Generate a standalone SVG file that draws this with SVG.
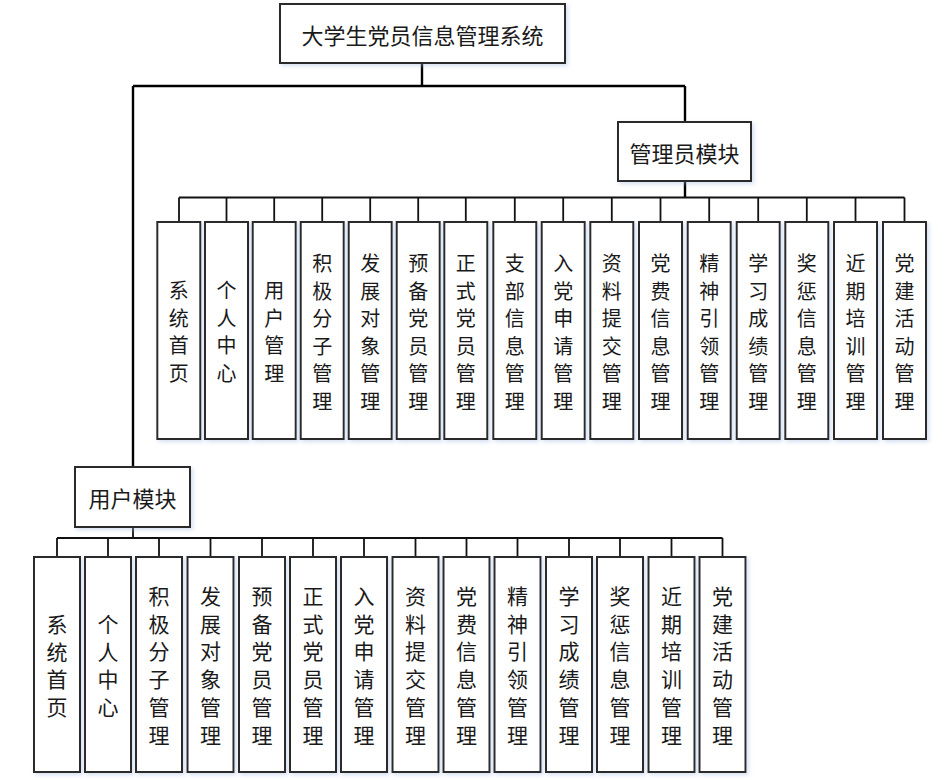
<svg xmlns="http://www.w3.org/2000/svg" width="948" height="780" viewBox="0 0 948 780">
<defs>
<filter id="sh" x="-20%" y="-10%" width="150%" height="130%">
<feDropShadow dx="2" dy="2" stdDeviation="2" flood-color="#9fb8e0" flood-opacity="0.45"/>
</filter>
<style>
.box{fill:#fff;stroke:#2b2b2b;stroke-width:2;filter:url(#sh)}
.t{font-family:"Noto Sans CJK SC","Noto Sans CJK JP",sans-serif;fill:#1a1a1a;text-anchor:middle;dominant-baseline:central}
.h{font-size:22px}
.a{font-size:20px}
.u{font-size:21px}
.c{fill:none;stroke:#000;stroke-width:2.4}
.cl{fill:none;stroke:#111;stroke-width:1.8}
</style>
</defs>
<g id="connectors">
<path class="c" d="M422 63V86M133 86H685M133 86V467M685 86V122M685 181V197.5"/>
<path class="cl" d="M179 197.5H904.5M179 197.5V222M226.5 197.5V222M274.2 197.5V222M322.2 197.5V222M370.2 197.5V222M418.2 197.5V222M465.8 197.5V222M514.8 197.5V222M563.2 197.5V222M611.8 197.5V222M660.5 197.5V222M709.2 197.5V222M758.2 197.5V222M806.8 197.5V222M855.5 197.5V222M904.5 197.5V222"/>
<path class="cl" d="M133 527V538M57 538H722.5M57 538V557M108 538V557M159 538V557M210.5 538V557M262 538V557M313 538V557M364 538V557M415.5 538V557M466.5 538V557M517.5 538V557M569 538V557M620 538V557M671.5 538V557M722.5 538V557"/>
</g>
<g id="root"><rect class="box" x="280" y="4" width="285" height="59"/><text class="t h" x="422.5" y="34">大学生党员信息管理系统</text></g>
<g id="admin"><rect class="box" x="618" y="122" width="133" height="59"/><text class="t h" x="684.5" y="152">管理员模块</text></g>
<g id="user"><rect class="box" x="75" y="467" width="115" height="60"/><text class="t h" x="132.5" y="497">用户模块</text></g>

<g id="a1"><rect class="box" x="157.3" y="222" width="43" height="217"/><text class="t a" x="178.8" y="289"><tspan x="178.8" y="289">系</tspan><tspan x="178.8" dy="27.5">统</tspan><tspan x="178.8" dy="27.5">首</tspan><tspan x="178.8" dy="27.5">页</tspan></text></g>
<g id="a2"><rect class="box" x="205" y="222" width="43" height="217"/><text class="t a"><tspan x="226.5" y="289">个</tspan><tspan x="226.5" dy="27.5">人</tspan><tspan x="226.5" dy="27.5">中</tspan><tspan x="226.5" dy="27.5">心</tspan></text></g>
<g id="a3"><rect class="box" x="252.7" y="222" width="43" height="217"/><text class="t a"><tspan x="274.2" y="289">用</tspan><tspan x="274.2" dy="27.5">户</tspan><tspan x="274.2" dy="27.5">管</tspan><tspan x="274.2" dy="27.5">理</tspan></text></g>
<g id="a4"><rect class="box" x="300.7" y="222" width="43" height="217"/><text class="t a"><tspan x="322.2" y="262">积</tspan><tspan x="322.2" dy="27.5">极</tspan><tspan x="322.2" dy="27.5">分</tspan><tspan x="322.2" dy="27.5">子</tspan><tspan x="322.2" dy="27.5">管</tspan><tspan x="322.2" dy="27.5">理</tspan></text></g>
<g id="a5"><rect class="box" x="348.7" y="222" width="43" height="217"/><text class="t a"><tspan x="370.2" y="262">发</tspan><tspan x="370.2" dy="27.5">展</tspan><tspan x="370.2" dy="27.5">对</tspan><tspan x="370.2" dy="27.5">象</tspan><tspan x="370.2" dy="27.5">管</tspan><tspan x="370.2" dy="27.5">理</tspan></text></g>
<g id="a6"><rect class="box" x="396.7" y="222" width="43" height="217"/><text class="t a"><tspan x="418.2" y="262">预</tspan><tspan x="418.2" dy="27.5">备</tspan><tspan x="418.2" dy="27.5">党</tspan><tspan x="418.2" dy="27.5">员</tspan><tspan x="418.2" dy="27.5">管</tspan><tspan x="418.2" dy="27.5">理</tspan></text></g>
<g id="a7"><rect class="box" x="444.3" y="222" width="43" height="217"/><text class="t a"><tspan x="465.8" y="262">正</tspan><tspan x="465.8" dy="27.5">式</tspan><tspan x="465.8" dy="27.5">党</tspan><tspan x="465.8" dy="27.5">员</tspan><tspan x="465.8" dy="27.5">管</tspan><tspan x="465.8" dy="27.5">理</tspan></text></g>
<g id="a8"><rect class="box" x="493.3" y="222" width="43" height="217"/><text class="t a"><tspan x="514.8" y="262">支</tspan><tspan x="514.8" dy="27.5">部</tspan><tspan x="514.8" dy="27.5">信</tspan><tspan x="514.8" dy="27.5">息</tspan><tspan x="514.8" dy="27.5">管</tspan><tspan x="514.8" dy="27.5">理</tspan></text></g>
<g id="a9"><rect class="box" x="541.7" y="222" width="43" height="217"/><text class="t a"><tspan x="563.2" y="262">入</tspan><tspan x="563.2" dy="27.5">党</tspan><tspan x="563.2" dy="27.5">申</tspan><tspan x="563.2" dy="27.5">请</tspan><tspan x="563.2" dy="27.5">管</tspan><tspan x="563.2" dy="27.5">理</tspan></text></g>
<g id="a10"><rect class="box" x="590.3" y="222" width="43" height="217"/><text class="t a"><tspan x="611.8" y="262">资</tspan><tspan x="611.8" dy="27.5">料</tspan><tspan x="611.8" dy="27.5">提</tspan><tspan x="611.8" dy="27.5">交</tspan><tspan x="611.8" dy="27.5">管</tspan><tspan x="611.8" dy="27.5">理</tspan></text></g>
<g id="a11"><rect class="box" x="639" y="222" width="43" height="217"/><text class="t a"><tspan x="660.5" y="262">党</tspan><tspan x="660.5" dy="27.5">费</tspan><tspan x="660.5" dy="27.5">信</tspan><tspan x="660.5" dy="27.5">息</tspan><tspan x="660.5" dy="27.5">管</tspan><tspan x="660.5" dy="27.5">理</tspan></text></g>
<g id="a12"><rect class="box" x="687.7" y="222" width="43" height="217"/><text class="t a"><tspan x="709.2" y="262">精</tspan><tspan x="709.2" dy="27.5">神</tspan><tspan x="709.2" dy="27.5">引</tspan><tspan x="709.2" dy="27.5">领</tspan><tspan x="709.2" dy="27.5">管</tspan><tspan x="709.2" dy="27.5">理</tspan></text></g>
<g id="a13"><rect class="box" x="736.7" y="222" width="43" height="217"/><text class="t a"><tspan x="758.2" y="262">学</tspan><tspan x="758.2" dy="27.5">习</tspan><tspan x="758.2" dy="27.5">成</tspan><tspan x="758.2" dy="27.5">绩</tspan><tspan x="758.2" dy="27.5">管</tspan><tspan x="758.2" dy="27.5">理</tspan></text></g>
<g id="a14"><rect class="box" x="785.3" y="222" width="43" height="217"/><text class="t a"><tspan x="806.8" y="262">奖</tspan><tspan x="806.8" dy="27.5">惩</tspan><tspan x="806.8" dy="27.5">信</tspan><tspan x="806.8" dy="27.5">息</tspan><tspan x="806.8" dy="27.5">管</tspan><tspan x="806.8" dy="27.5">理</tspan></text></g>
<g id="a15"><rect class="box" x="834" y="222" width="43" height="217"/><text class="t a"><tspan x="855.5" y="262">近</tspan><tspan x="855.5" dy="27.5">期</tspan><tspan x="855.5" dy="27.5">培</tspan><tspan x="855.5" dy="27.5">训</tspan><tspan x="855.5" dy="27.5">管</tspan><tspan x="855.5" dy="27.5">理</tspan></text></g>
<g id="a16"><rect class="box" x="883" y="222" width="43" height="217"/><text class="t a"><tspan x="904.5" y="262">党</tspan><tspan x="904.5" dy="27.5">建</tspan><tspan x="904.5" dy="27.5">活</tspan><tspan x="904.5" dy="27.5">动</tspan><tspan x="904.5" dy="27.5">管</tspan><tspan x="904.5" dy="27.5">理</tspan></text></g>

<g id="u1"><rect class="box" x="34" y="557" width="46" height="215"/><text class="t u"><tspan x="57" y="623">系</tspan><tspan x="57" dy="27.7">统</tspan><tspan x="57" dy="27.7">首</tspan><tspan x="57" dy="27.7">页</tspan></text></g>
<g id="u2"><rect class="box" x="85" y="557" width="46" height="215"/><text class="t u"><tspan x="108" y="623">个</tspan><tspan x="108" dy="27.7">人</tspan><tspan x="108" dy="27.7">中</tspan><tspan x="108" dy="27.7">心</tspan></text></g>
<g id="u3"><rect class="box" x="136" y="557" width="46" height="215"/><text class="t u"><tspan x="159" y="595">积</tspan><tspan x="159" dy="27.7">极</tspan><tspan x="159" dy="27.7">分</tspan><tspan x="159" dy="27.7">子</tspan><tspan x="159" dy="27.7">管</tspan><tspan x="159" dy="27.7">理</tspan></text></g>
<g id="u4"><rect class="box" x="187.5" y="557" width="46" height="215"/><text class="t u"><tspan x="210.5" y="595">发</tspan><tspan x="210.5" dy="27.7">展</tspan><tspan x="210.5" dy="27.7">对</tspan><tspan x="210.5" dy="27.7">象</tspan><tspan x="210.5" dy="27.7">管</tspan><tspan x="210.5" dy="27.7">理</tspan></text></g>
<g id="u5"><rect class="box" x="239" y="557" width="46" height="215"/><text class="t u"><tspan x="262" y="595">预</tspan><tspan x="262" dy="27.7">备</tspan><tspan x="262" dy="27.7">党</tspan><tspan x="262" dy="27.7">员</tspan><tspan x="262" dy="27.7">管</tspan><tspan x="262" dy="27.7">理</tspan></text></g>
<g id="u6"><rect class="box" x="290" y="557" width="46" height="215"/><text class="t u"><tspan x="313" y="595">正</tspan><tspan x="313" dy="27.7">式</tspan><tspan x="313" dy="27.7">党</tspan><tspan x="313" dy="27.7">员</tspan><tspan x="313" dy="27.7">管</tspan><tspan x="313" dy="27.7">理</tspan></text></g>
<g id="u7"><rect class="box" x="341" y="557" width="46" height="215"/><text class="t u"><tspan x="364" y="595">入</tspan><tspan x="364" dy="27.7">党</tspan><tspan x="364" dy="27.7">申</tspan><tspan x="364" dy="27.7">请</tspan><tspan x="364" dy="27.7">管</tspan><tspan x="364" dy="27.7">理</tspan></text></g>
<g id="u8"><rect class="box" x="392.5" y="557" width="46" height="215"/><text class="t u"><tspan x="415.5" y="595">资</tspan><tspan x="415.5" dy="27.7">料</tspan><tspan x="415.5" dy="27.7">提</tspan><tspan x="415.5" dy="27.7">交</tspan><tspan x="415.5" dy="27.7">管</tspan><tspan x="415.5" dy="27.7">理</tspan></text></g>
<g id="u9"><rect class="box" x="443.5" y="557" width="46" height="215"/><text class="t u"><tspan x="466.5" y="595">党</tspan><tspan x="466.5" dy="27.7">费</tspan><tspan x="466.5" dy="27.7">信</tspan><tspan x="466.5" dy="27.7">息</tspan><tspan x="466.5" dy="27.7">管</tspan><tspan x="466.5" dy="27.7">理</tspan></text></g>
<g id="u10"><rect class="box" x="494.5" y="557" width="46" height="215"/><text class="t u"><tspan x="517.5" y="595">精</tspan><tspan x="517.5" dy="27.7">神</tspan><tspan x="517.5" dy="27.7">引</tspan><tspan x="517.5" dy="27.7">领</tspan><tspan x="517.5" dy="27.7">管</tspan><tspan x="517.5" dy="27.7">理</tspan></text></g>
<g id="u11"><rect class="box" x="546" y="557" width="46" height="215"/><text class="t u"><tspan x="569" y="595">学</tspan><tspan x="569" dy="27.7">习</tspan><tspan x="569" dy="27.7">成</tspan><tspan x="569" dy="27.7">绩</tspan><tspan x="569" dy="27.7">管</tspan><tspan x="569" dy="27.7">理</tspan></text></g>
<g id="u12"><rect class="box" x="597" y="557" width="46" height="215"/><text class="t u"><tspan x="620" y="595">奖</tspan><tspan x="620" dy="27.7">惩</tspan><tspan x="620" dy="27.7">信</tspan><tspan x="620" dy="27.7">息</tspan><tspan x="620" dy="27.7">管</tspan><tspan x="620" dy="27.7">理</tspan></text></g>
<g id="u13"><rect class="box" x="648.5" y="557" width="46" height="215"/><text class="t u"><tspan x="671.5" y="595">近</tspan><tspan x="671.5" dy="27.7">期</tspan><tspan x="671.5" dy="27.7">培</tspan><tspan x="671.5" dy="27.7">训</tspan><tspan x="671.5" dy="27.7">管</tspan><tspan x="671.5" dy="27.7">理</tspan></text></g>
<g id="u14"><rect class="box" x="699.5" y="557" width="46" height="215"/><text class="t u"><tspan x="722.5" y="595">党</tspan><tspan x="722.5" dy="27.7">建</tspan><tspan x="722.5" dy="27.7">活</tspan><tspan x="722.5" dy="27.7">动</tspan><tspan x="722.5" dy="27.7">管</tspan><tspan x="722.5" dy="27.7">理</tspan></text></g>
</svg>
